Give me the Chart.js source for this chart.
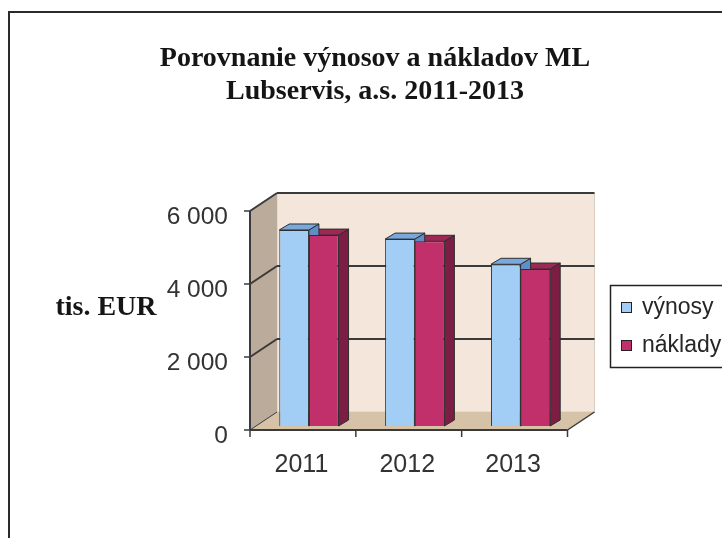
<!DOCTYPE html>
<html>
<head>
<meta charset="utf-8">
<script src="https://cdn.jsdelivr.net/npm/chart.js@4.4.1/dist/chart.umd.min.js"></script>
<style>
  html, body { margin: 0; padding: 0; background: #fff; }
  #wrap { width: 722px; height: 538px; }
</style>
</head>
<body>
<div id="wrap"><canvas id="c" width="722" height="538"></canvas></div>
<script>
// data (tis. EUR)
const years = ['2011', '2012', '2013'];
const vynosy = [5370, 5120, 4430];
const naklady = [5230, 5060, 4300];
const seriesNames = ['výnosy', 'náklady'];
const yTicks = [0, 2000, 4000, 6000];
const yTickLabels = ['0', '2 000', '4 000', '6 000'];
const titleLines = ['Porovnanie výnosov a nákladov ML', 'Lubservis, a.s. 2011-2013'];
const yTitle = 'tis. EUR';

// colours for the fake 3d look
const frontCol = ['#a2cdf4', '#c2306b'];
const topCol = ['#78a8dc', '#9c2856'];
const sideCol = ['#5f8fc6', '#7c1e43'];

const FRONT = [-6, 4];   // front plane offset from bar plane
const BACK = [21, -14];  // back wall offset from bar plane
const BAR_D = [10, -6];  // bar depth

function line(ctx, x1, y1, x2, y2) {
  ctx.beginPath(); ctx.moveTo(x1, y1); ctx.lineTo(x2, y2); ctx.stroke();
}
function poly(ctx, pts, fill, stroke) {
  ctx.beginPath();
  ctx.moveTo(pts[0][0], pts[0][1]);
  for (let i = 1; i < pts.length; i++) ctx.lineTo(pts[i][0], pts[i][1]);
  ctx.closePath();
  ctx.fillStyle = fill; ctx.fill();
  if (stroke) { ctx.strokeStyle = stroke; ctx.stroke(); }
}

const box3d = {
  id: 'box3d',
  beforeDraw(chart) {
    const { ctx, width, height } = chart;
    ctx.save();
    ctx.fillStyle = '#fff';
    ctx.fillRect(0, 0, width, height);
    ctx.strokeStyle = '#2b2b2b';
    ctx.lineWidth = 2;
    ctx.beginPath();
    ctx.moveTo(9, height); ctx.lineTo(9, 12); ctx.lineTo(width, 12);
    ctx.stroke();
    ctx.restore();
  },
  beforeDatasetsDraw(chart) {
    const { ctx, chartArea: a } = chart;
    const y = chart.scales.y;
    const top = y.getPixelForValue(yTicks[yTicks.length - 1]);
    const bot = y.getPixelForValue(0);
    const L = a.left, R = a.right;
    ctx.save();
    ctx.lineWidth = 1;
    // back wall
    poly(ctx, [[L + BACK[0], top + BACK[1]], [R + BACK[0], top + BACK[1]],
               [R + BACK[0], bot + BACK[1]], [L + BACK[0], bot + BACK[1]]], '#f4e6da', '#d8ccc1');
    // left wall
    poly(ctx, [[L + FRONT[0], top + FRONT[1]], [L + BACK[0], top + BACK[1]],
               [L + BACK[0], bot + BACK[1]], [L + FRONT[0], bot + FRONT[1]]], '#bbab9b');
    // floor
    poly(ctx, [[L + FRONT[0], bot + FRONT[1]], [L + BACK[0], bot + BACK[1]],
               [R + BACK[0], bot + BACK[1]], [R + FRONT[0], bot + FRONT[1]]], '#d6c2a6');
    // grid lines
    ctx.strokeStyle = '#3a3a3a';
    yTicks.forEach(v => {
      const py = y.getPixelForValue(v);
      ctx.lineWidth = v === 0 ? 1 : 2;
      if (v > 0) line(ctx, L + BACK[0], py + BACK[1], R + BACK[0], py + BACK[1]);
      line(ctx, L + FRONT[0], py + FRONT[1], L + BACK[0], py + BACK[1]);
      ctx.lineWidth = 1.5;
      line(ctx, L + FRONT[0] - 6, py + FRONT[1], L + FRONT[0], py + FRONT[1]);
    });
    // front axis lines
    ctx.lineWidth = 2;
    line(ctx, L + FRONT[0], top + FRONT[1], L + FRONT[0], bot + FRONT[1]);
    line(ctx, L + FRONT[0], bot + FRONT[1], R + FRONT[0], bot + FRONT[1]);
    ctx.lineWidth = 1.5;
    line(ctx, R + FRONT[0], bot + FRONT[1], R + BACK[0], bot + BACK[1]);
    const n = years.length;
    for (let i = 0; i <= n; i++) {
      const px = L + i * (R - L) / n + FRONT[0];
      line(ctx, px, bot + FRONT[1], px, bot + FRONT[1] + 7);
    }
    // bar top and side faces, shorter bar first
    ctx.lineWidth = 1;
    for (let i = 0; i < n; i++) {
      const els = chart.data.datasets.map((ds, k) => ({ el: chart.getDatasetMeta(k).data[i], k }));
      els.sort((p, q) => q.el.y - p.el.y);
      els.forEach(({ el, k }) => {
        const l = el.x - el.width / 2, r = el.x + el.width / 2;
        poly(ctx, [[r, el.y], [r + BAR_D[0], el.y + BAR_D[1]], [r + BAR_D[0], el.base + BAR_D[1]], [r, el.base]], sideCol[k], '#2e2e2e');
        poly(ctx, [[l, el.y], [l + BAR_D[0], el.y + BAR_D[1]], [r + BAR_D[0], el.y + BAR_D[1]], [r, el.y]], topCol[k], '#2e2e2e');
      });
    }
    ctx.restore();
  },
  afterDraw(chart) {
    const { ctx } = chart;
    ctx.save();
    // y axis title, horizontal
    ctx.fillStyle = '#151515';
    ctx.font = 'bold 28px "Liberation Serif", "Times New Roman", serif';
    ctx.textAlign = 'center';
    ctx.textBaseline = 'alphabetic';
    ctx.fillText(yTitle, 106, 315);
    // legend with frame
    ctx.strokeStyle = '#222';
    ctx.lineWidth = 1.5;
    ctx.strokeRect(610.5, 285.5, 140, 82);
    ctx.font = '23px "Liberation Sans", Arial, sans-serif';
    ctx.textAlign = 'left';
    ctx.textBaseline = 'middle';
    chart.data.datasets.forEach((ds, k) => {
      const cy = 308 + k * 38;
      ctx.fillStyle = ds.backgroundColor;
      ctx.fillRect(621.5, cy - 5.5, 10, 10);
      ctx.lineWidth = 1;
      ctx.strokeStyle = '#222';
      ctx.strokeRect(621.5, cy - 5.5, 10, 10);
      ctx.fillStyle = '#262626';
      ctx.fillText(ds.label, 642, cy);
    });
    ctx.restore();
  }
};

new Chart(document.getElementById('c'), {
  type: 'bar',
  data: {
    labels: years,
    datasets: [
      { label: seriesNames[0], data: vynosy, backgroundColor: frontCol[0] },
      { label: seriesNames[1], data: naklady, backgroundColor: frontCol[1] }
    ]
  },
  options: {
    responsive: false,
    animation: false,
    devicePixelRatio: 1,
    layout: { padding: { left: 28, right: 0, top: 0, bottom: 0 } },
    datasets: {
      bar: { categoryPercentage: 0.56, barPercentage: 1, borderColor: '#2e2e2e', borderWidth: 1 }
    },
    plugins: {
      legend: { display: false },
      tooltip: { enabled: false },
      title: {
        display: true,
        text: titleLines,
        color: '#151515',
        font: { family: '"Liberation Serif", "Times New Roman", serif', size: 28, weight: 'bold', lineHeight: 1.18 },
        padding: { top: 42, bottom: 98.9 }
      }
    },
    scales: {
      x: {
        grid: { display: false, drawTicks: false },
        border: { display: false },
        ticks: {
          color: '#333',
          font: { family: '"Liberation Sans", Arial, sans-serif', size: 25 },
          padding: 24,
          labelOffset: -7.5
        },
        afterFit(s) { s.height = 112; }
      },
      y: {
        min: 0,
        max: 6000,
        grid: { display: false, drawTicks: false },
        border: { display: false },
        afterBuildTicks(s) { s.ticks = yTicks.map(v => ({ value: v })); },
        ticks: {
          color: '#333',
          font: { family: '"Liberation Sans", Arial, sans-serif', size: 24.5 },
          padding: 28,
          labelOffset: 10,
          callback: (v) => yTickLabels[yTicks.indexOf(v)]
        },
        afterFit(s) { s.width = 228; }
      },
      y2: {
        position: 'right',
        display: true,
        grid: { display: false, drawTicks: false },
        border: { display: false },
        ticks: { display: false },
        afterFit(s) { s.width = 148.5; }
      }
    }
  },
  plugins: [box3d]
});
</script>
</body>
</html>
